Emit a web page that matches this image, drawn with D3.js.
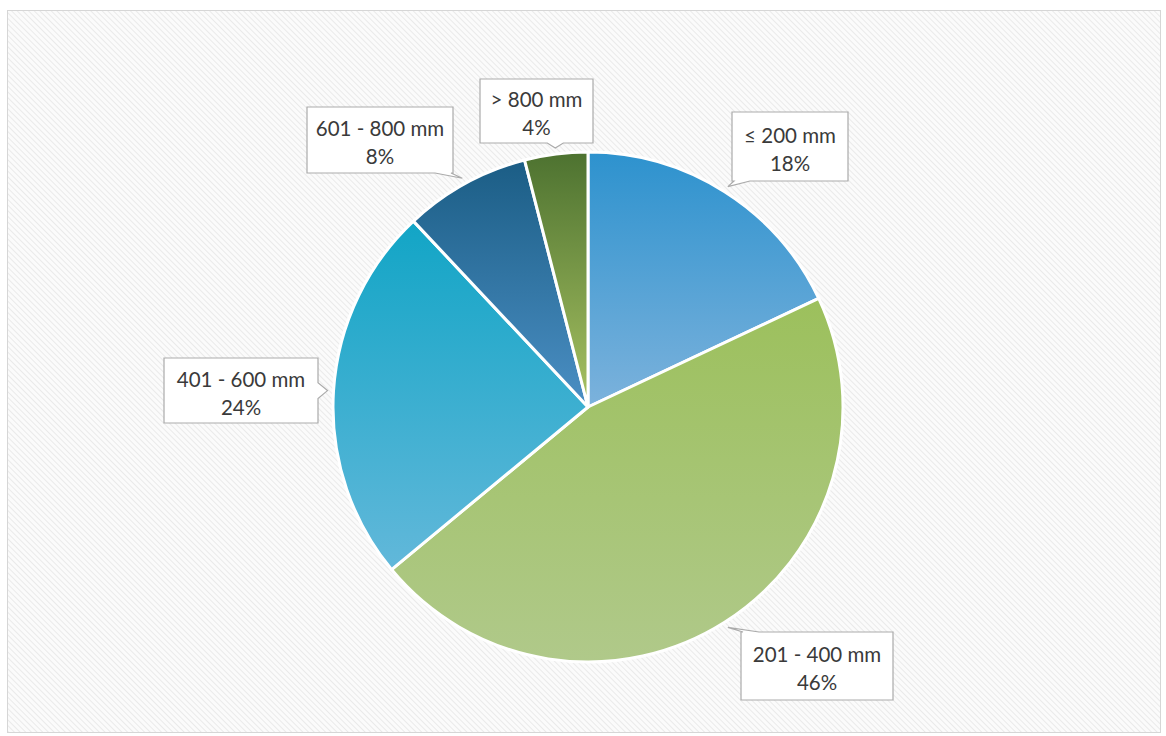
<!DOCTYPE html>
<html>
<head>
<meta charset="utf-8">
<script src="https://cdn.jsdelivr.net/npm/d3@7"></script>
<style>
  html, body { margin: 0; padding: 0; background: #ffffff; }
  svg { display: block; }
</style>
</head>
<body>
<div id="chart"></div>
<script>
// data
var categories = ["≤ 200 mm", "201 - 400 mm", "401 - 600 mm", "601 - 800 mm", "> 800 mm"];
var shares = [18, 46, 24, 8, 4];
var pctLabels = ["18%", "46%", "24%", "8%", "4%"];

// gradient colours per slice (top -> bottom)
var topColors = ["#2d92ce", "#9cc05c", "#12a5c6", "#1b5d85", "#4d7230"];
var bottomColors = ["#7cb2dc", "#b0c98a", "#62b8da", "#4b8fc4", "#a8c262"];

// label boxes: left, top, width, height
var boxes = [
    {x: 732, y: 112, w: 116, h: 69},
    {x: 741, y: 632, w: 152, h: 68},
    {x: 164, y: 358, w: 154, h: 65},
    {x: 307, y: 107, w: 146, h: 66},
    {x: 480, y: 79, w: 113, h: 64}
];

var width = 1166, height = 736;
var cx = 588, cy = 407, radius = 255;

var svg = d3.select("#chart")
    .append("svg")
    .attr("width", width)
    .attr("height", height);

var defs = svg.append("defs");

// hatched background
var pat = defs.append("pattern")
    .attr("id", "hatch")
    .attr("width", 4)
    .attr("height", 4)
    .attr("patternUnits", "userSpaceOnUse")
    .attr("patternTransform", "rotate(-45)");
pat.append("rect").attr("width", 4).attr("height", 4).attr("fill", "#fbfbfb");
pat.append("line")
    .attr("x1", 0).attr("y1", 0).attr("x2", 0).attr("y2", 4)
    .attr("stroke", "#e6e6e6")
    .attr("stroke-width", 1.6);

svg.append("rect")
    .attr("width", width).attr("height", height)
    .attr("fill", "#ffffff");

svg.append("rect")
    .attr("x", 7.5).attr("y", 10.5)
    .attr("width", 1153).attr("height", 722)
    .attr("fill", "url(#hatch)")
    .attr("stroke", "#d6d6d6")
    .attr("stroke-width", 1);

// gradients
categories.forEach(function (c, i) {
    var g = defs.append("linearGradient")
        .attr("id", "grad" + i)
        .attr("x1", 0).attr("y1", 0).attr("x2", 0).attr("y2", 1);
    g.append("stop").attr("offset", "0%").attr("stop-color", topColors[i]);
    g.append("stop").attr("offset", "100%").attr("stop-color", bottomColors[i]);
});

var pie = d3.pie().sort(null).value(function (d) { return d; });
var arcs = pie(shares);

var arc = d3.arc().innerRadius(0).outerRadius(radius);
var tipArc = d3.arc().innerRadius(radius + 6).outerRadius(radius + 6);

var g = svg.append("g")
    .attr("transform", "translate(" + cx + "," + cy + ")");

g.selectAll("path.slice")
    .data(arcs)
    .enter()
    .append("path")
    .attr("class", "slice")
    .attr("d", arc)
    .attr("fill", function (d, i) { return "url(#grad" + i + ")"; })
    .attr("stroke", "#ffffff")
    .attr("stroke-width", 3)
    .attr("stroke-linejoin", "round");

// callout box path with a pointer towards the tip
function calloutPath(b, tip) {
    var x0 = b.x, y0 = b.y, x1 = b.x + b.w, y1 = b.y + b.h;
    var half = 8;
    var side;
    if (tip[1] > y1) side = "bottom";
    else if (tip[1] < y0) side = "top";
    else if (tip[0] > x1) side = "right";
    else side = "left";
    var p = [];
    function clampX(v) { return Math.max(x0 + half + 2, Math.min(x1 - half - 2, v)); }
    function clampY(v) { return Math.max(y0 + half + 2, Math.min(y1 - half - 2, v)); }
    if (side === "top") {
        var mx = clampX(tip[0]);
        p = [[x0, y0], [mx - half, y0], tip, [mx + half, y0], [x1, y0], [x1, y1], [x0, y1]];
    } else if (side === "bottom") {
        var mx2 = clampX(tip[0]);
        p = [[x0, y0], [x1, y0], [x1, y1], [mx2 + half, y1], tip, [mx2 - half, y1], [x0, y1]];
    } else if (side === "right") {
        var my = clampY(tip[1]);
        p = [[x0, y0], [x1, y0], [x1, my - half], tip, [x1, my + half], [x1, y1], [x0, y1]];
    } else {
        var my2 = clampY(tip[1]);
        p = [[x0, y0], [x1, y0], [x1, y1], [x0, y1], [x0, my2 + half], tip, [x0, my2 - half]];
    }
    return "M" + p.map(function (q) { return q[0] + "," + q[1]; }).join("L") + "Z";
}

var labels = svg.append("g");

arcs.forEach(function (d, i) {
    var b = boxes[i];
    var c = tipArc.centroid(d);
    var tip = [c[0] + cx, c[1] + cy];
    labels.append("path")
        .attr("d", calloutPath(b, tip))
        .attr("fill", "#ffffff")
        .attr("stroke", "#ababab")
        .attr("stroke-width", 1.2)
        .attr("stroke-linejoin", "miter");
    var t = labels.append("text")
        .attr("x", b.x + b.w / 2)
        .attr("text-anchor", "middle")
        .style("font-family", "Lato, 'Open Sans', sans-serif")
        .style("font-size", "20.5px")
        .style("fill", "#3a3a3a");
    t.append("tspan")
        .attr("x", b.x + b.w / 2)
        .attr("y", b.y + b.h / 2 - 4)
        .text(categories[i]);
    t.append("tspan")
        .attr("x", b.x + b.w / 2)
        .attr("y", b.y + b.h / 2 + 24)
        .text(pctLabels[i]);
});
</script>
</body>
</html>
